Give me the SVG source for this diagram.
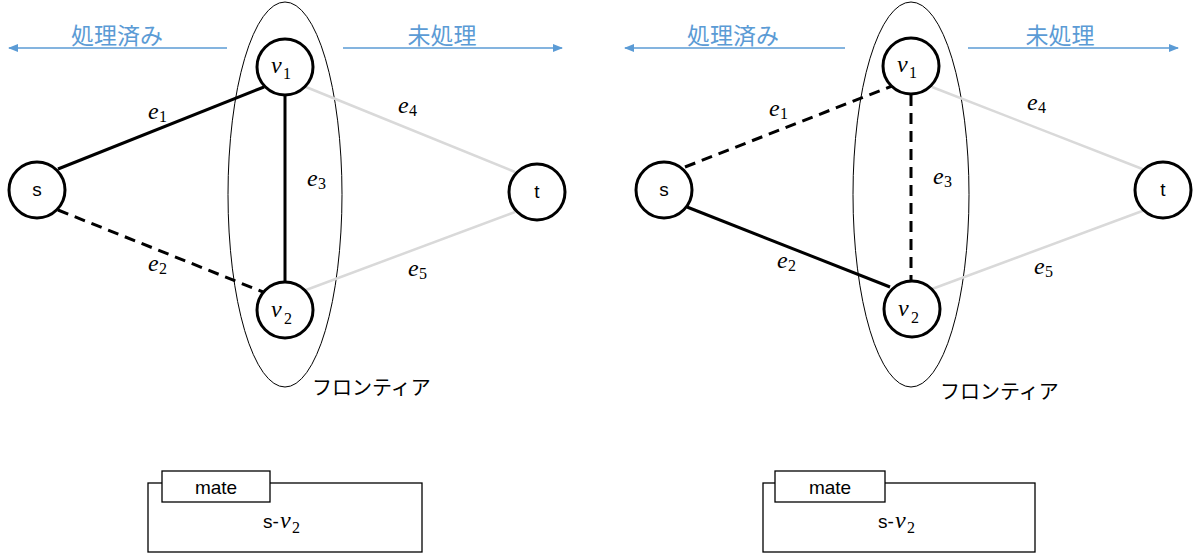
<svg xmlns="http://www.w3.org/2000/svg" width="1195" height="553" viewBox="0 0 1195 553">
<defs>
<marker id="ah" markerWidth="10" markerHeight="8" refX="9" refY="4" orient="auto" markerUnits="userSpaceOnUse">
<path d="M0,0 L10,4 L0,8 Z" fill="#5B9BD5"/>
</marker>
<style>
.node{fill:#fff;stroke:#000;stroke-width:3}
.solid{stroke:#000;stroke-width:3;fill:none}
.dash{stroke:#000;stroke-width:3;fill:none;stroke-dasharray:11 7}
.gray{stroke:#d9d9d9;stroke-width:2.5;fill:none}
.front{fill:none;stroke:#000;stroke-width:1}
.arr{stroke:#5B9BD5;stroke-width:1.3;fill:none;marker-end:url(#ah)}
.jp{font-family:"Noto Sans CJK JP",sans-serif;font-size:20px}
.big{font-size:23px}
.blue{fill:#5B9BD5}
.lbl{font-family:"Liberation Sans",Arial,sans-serif;font-size:19px;text-anchor:middle}
.m{font-family:"Liberation Serif","DejaVu Serif",serif;font-style:italic;font-size:24px}
.sub{font-family:"Liberation Serif","DejaVu Serif",serif;font-size:16px}
.box{fill:#fff;stroke:#000;stroke-width:1.3}
</style>
</defs>
<rect width="1195" height="553" fill="#fff"/>

<!-- Left panel -->
<g id="left-panel">
  <g id="left-direction">
    <line class="arr" x1="227" y1="48" x2="9" y2="48"/>
    <text class="jp big blue" x="117" y="44" text-anchor="middle">処理済み</text>
    <line class="arr" x1="343" y1="48" x2="562" y2="48"/>
    <text class="jp big blue" x="442" y="44" text-anchor="middle">未処理</text>
  </g>
  <g id="left-frontier">
    <ellipse class="front" cx="285" cy="194.5" rx="57" ry="192.5"/>
    <text class="jp" x="312" y="395">フロンティア</text>
  </g>
  <g id="left-connectors">
    <line class="solid" x1="58" y1="169" x2="264" y2="87"/>
    <line class="dash" x1="58" y1="210" x2="263" y2="292"/>
    <line class="solid" x1="285" y1="95" x2="285" y2="283"/>
    <line class="gray" x1="306" y1="87" x2="515" y2="172"/>
    <line class="gray" x1="306" y1="290" x2="515" y2="212"/>
    <text class="m" x="148" y="119">e</text><text class="sub" x="159" y="122">1</text>
    <text class="m" x="148" y="271">e</text><text class="sub" x="159" y="274">2</text>
    <text class="m" x="307" y="186">e</text><text class="sub" x="318" y="189">3</text>
    <text class="m" x="398" y="113">e</text><text class="sub" x="409" y="116">4</text>
    <text class="m" x="408" y="276">e</text><text class="sub" x="419" y="279">5</text>
  </g>
  <g id="left-s"><circle class="node" cx="37" cy="190" r="28"/><text class="lbl" x="37" y="196">s</text></g>
  <g id="left-v1"><circle class="node" cx="285" cy="67" r="28"/><text class="m" x="271" y="73">v</text><text class="sub" x="283" y="79">1</text></g>
  <g id="left-v2"><circle class="node" cx="285" cy="310" r="28"/><text class="m" x="271" y="317">v</text><text class="sub" x="284" y="324">2</text></g>
  <g id="left-t"><circle class="node" cx="537" cy="192" r="28"/><text class="lbl" x="537" y="198">t</text></g>
  <g id="left-mate">
    <rect class="box" x="148" y="483" width="274" height="69"/>
    <rect class="box" x="162" y="471" width="108" height="31"/>
    <text class="lbl" x="216" y="494">mate</text>
    <text class="lbl" x="271" y="528" text-anchor="middle">s-</text>
    <text class="m" x="280" y="528">v</text><text class="sub" x="292" y="533">2</text>
  </g>
</g>

<!-- Right panel -->
<g id="right-panel">
  <g id="right-direction">
    <line class="arr" x1="845" y1="48" x2="625" y2="48"/>
    <text class="jp big blue" x="733" y="44" text-anchor="middle">処理済み</text>
    <line class="arr" x1="968" y1="48" x2="1178" y2="48"/>
    <text class="jp big blue" x="1060" y="44" text-anchor="middle">未処理</text>
  </g>
  <g id="right-frontier">
    <ellipse class="front" cx="911" cy="194.5" rx="58" ry="192.5"/>
    <text class="jp" x="940" y="399">フロンティア</text>
  </g>
  <g id="right-connectors">
    <line class="dash" x1="685" y1="167" x2="892" y2="86"/>
    <line class="solid" x1="687" y1="207" x2="890" y2="287"/>
    <line class="dash" x1="911" y1="95" x2="911" y2="281"/>
    <line class="gray" x1="932" y1="87" x2="1145" y2="170"/>
    <line class="gray" x1="932" y1="289" x2="1145" y2="210"/>
    <text class="m" x="769" y="116">e</text><text class="sub" x="780" y="119">1</text>
    <text class="m" x="777" y="268">e</text><text class="sub" x="788" y="271">2</text>
    <text class="m" x="933" y="184">e</text><text class="sub" x="944" y="187">3</text>
    <text class="m" x="1027" y="110">e</text><text class="sub" x="1038" y="113">4</text>
    <text class="m" x="1034" y="274">e</text><text class="sub" x="1045" y="277">5</text>
  </g>
  <g id="right-s"><circle class="node" cx="664" cy="190" r="28"/><text class="lbl" x="664" y="196">s</text></g>
  <g id="right-v1"><circle class="node" cx="911" cy="66" r="28"/><text class="m" x="897" y="72">v</text><text class="sub" x="909" y="78">1</text></g>
  <g id="right-v2"><circle class="node" cx="912" cy="309" r="28"/><text class="m" x="898" y="316">v</text><text class="sub" x="911" y="323">2</text></g>
  <g id="right-t"><circle class="node" cx="1163" cy="190" r="28"/><text class="lbl" x="1163" y="196">t</text></g>
  <g id="right-mate">
    <rect class="box" x="763" y="483" width="272" height="69"/>
    <rect class="box" x="775" y="471" width="110" height="31"/>
    <text class="lbl" x="830" y="494">mate</text>
    <text class="lbl" x="886" y="528" text-anchor="middle">s-</text>
    <text class="m" x="895" y="528">v</text><text class="sub" x="907" y="533">2</text>
  </g>
</g>
</svg>
